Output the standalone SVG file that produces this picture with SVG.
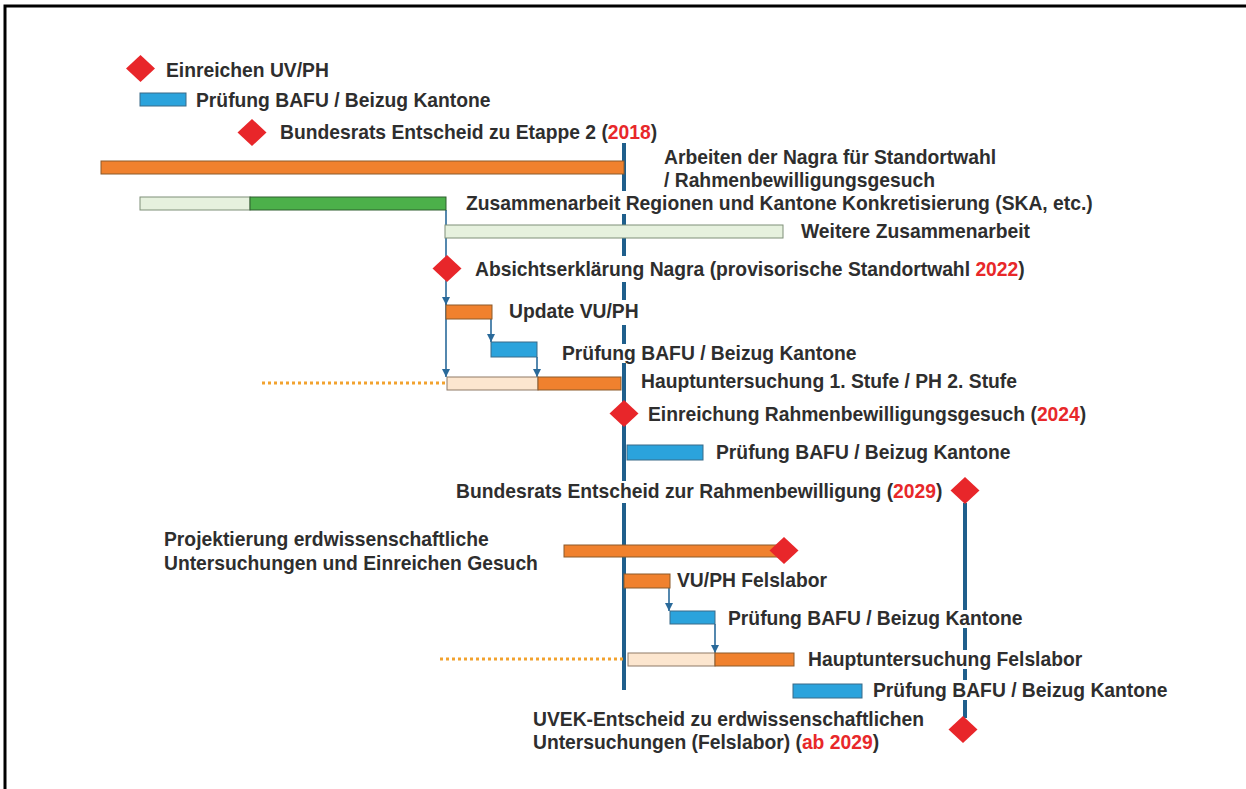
<svg xmlns="http://www.w3.org/2000/svg" width="1246" height="789" viewBox="0 0 1246 789">
<defs>
<style>
text{font-family:"Liberation Sans",Arial,sans-serif;font-weight:bold;font-size:19.3px;fill:#2e2e2e}
.red{fill:#e8282a}
.dia{fill:#e8262a}
.or{fill:#f0812e;stroke:#8b5a2b;stroke-width:1}
.bl{fill:#2ba3dc;stroke:#3a6a88;stroke-width:1}
.gr{fill:#4cb04a;stroke:#2e5e2e;stroke-width:1}
.lg{fill:#e6f1de;stroke:#7f8f78;stroke-width:1}
.pe{fill:#fce6cf;stroke:#8f7a66;stroke-width:1}
.vl{stroke:#1f5f8c;stroke-width:4;fill:none}
.arr{stroke:#2a6a9a;stroke-width:1.6;fill:none;marker-end:url(#ah)}
.dot{stroke:#f2a22e;stroke-width:3;stroke-dasharray:3 3;fill:none}
</style>
<marker id="ah" viewBox="0 0 10 10" refX="10" refY="5" markerWidth="8" markerHeight="8" markerUnits="userSpaceOnUse" orient="auto"><path d="M0,0 L10,5 L0,10 z" fill="#2a6a9a"/></marker>
</defs>
<rect width="1246" height="789" fill="#fff"/>
<path d="M5,789 V6 H1246" stroke="#000" stroke-width="3" fill="none"/>

<g id="timelines">
<path class="vl" d="M624,143 V191 M624,214 V256 M624,282 V300 M624,325 V344 M624,363 V481 M624,503 V690"/>
<path class="vl" d="M965,503 V610 M965,628 V650 M965,669 V680 M965,700 V718"/>
</g>

<g id="connectors">
<path class="arr" d="M446,210 V305"/>
<path class="arr" d="M446,300 V377"/>
<path class="arr" d="M491,319 V342"/>
<path class="arr" d="M537,357 V377"/>
<path class="arr" d="M669,588 V611"/>
<path class="arr" d="M715,624 V653"/>
<path class="dot" d="M262,383 H445"/>
<path class="dot" d="M440,659 H626"/>
</g>

<g id="n1"><path class="dia" d="M140.5,55 L155,68.5 L140.5,82 L126,68.5 z"/><text x="166" y="77">Einreichen UV/PH</text></g>
<g id="n2"><rect class="bl" x="140" y="93" width="46" height="13"/><text x="196" y="107">Prüfung BAFU / Beizug Kantone</text></g>
<g id="n3"><path class="dia" d="M252,119 L266.5,132.5 L252,146 L237.5,132.5 z"/><text x="280" y="139">Bundesrats Entscheid zu Etappe 2 (<tspan class="red">2018</tspan>)</text></g>
<g id="n4"><rect class="or" x="101" y="161" width="523" height="13"/><text x="664" y="164">Arbeiten der Nagra für Standortwahl</text><text x="664" y="187">/ Rahmenbewilligungsgesuch</text></g>
<g id="n5"><rect class="lg" x="140" y="197" width="110" height="13"/><rect class="gr" x="250" y="197" width="196" height="13"/><text x="466" y="210">Zusammenarbeit Regionen und Kantone Konkretisierung (SKA, etc.)</text></g>
<g id="n6"><rect class="lg" x="445" y="225" width="338" height="13"/><text x="801" y="238">Weitere Zusammenarbeit</text></g>
<g id="n7"><path class="dia" d="M447,255 L461.5,268.5 L447,282 L432.5,268.5 z"/><text x="475" y="276">Absichtserklärung Nagra (provisorische Standortwahl <tspan class="red">2022</tspan>)</text></g>
<g id="n8"><rect class="or" x="446" y="305" width="46" height="14"/><text x="509" y="318">Update VU/PH</text></g>
<g id="n9"><rect class="bl" x="491" y="342" width="46" height="15"/><text x="562" y="360">Prüfung BAFU / Beizug Kantone</text></g>
<g id="n10"><rect class="pe" x="447" y="377" width="91" height="13"/><rect class="or" x="538" y="377" width="83" height="13"/><text x="641" y="388">Hauptuntersuchung 1. Stufe / PH 2. Stufe</text></g>
<g id="n11"><path class="dia" d="M624,400 L638.5,413.5 L624,427 L609.5,413.5 z"/><text x="648" y="421">Einreichung Rahmenbewilligungsgesuch (<tspan class="red">2024</tspan>)</text></g>
<g id="n12"><rect class="bl" x="627" y="445" width="76" height="15"/><text x="716" y="459">Prüfung BAFU / Beizug Kantone</text></g>
<g id="n13"><text x="456" y="498">Bundesrats Entscheid zur Rahmenbewilligung (<tspan class="red">2029</tspan>)</text><path class="dia" d="M965,477 L979.5,490.5 L965,504 L950.5,490.5 z"/></g>
<g id="n14"><text x="164" y="546">Projektierung erdwissenschaftliche</text><text x="164" y="570">Untersuchungen und Einreichen Gesuch</text><rect class="or" x="564" y="545" width="220" height="12"/><path class="dia" d="M784,537 L798.5,550.5 L784,564 L769.5,550.5 z"/></g>
<g id="n15"><rect class="or" x="624" y="574" width="46" height="14"/><text x="677" y="587">VU/PH Felslabor</text></g>
<g id="n16"><rect class="bl" x="670" y="611" width="45" height="13"/><text x="728" y="625">Prüfung BAFU / Beizug Kantone</text></g>
<g id="n17"><rect class="pe" x="628" y="653" width="87" height="13"/><rect class="or" x="715" y="653" width="79" height="13"/><text x="808" y="666">Hauptuntersuchung Felslabor</text></g>
<g id="n18"><rect class="bl" x="793" y="684" width="69" height="14"/><text x="873" y="697">Prüfung BAFU / Beizug Kantone</text></g>
<g id="n19"><text x="533" y="726">UVEK-Entscheid zu erdwissenschaftlichen</text><text x="533" y="749">Untersuchungen (Felslabor) (<tspan class="red">ab 2029</tspan>)</text><path class="dia" d="M963,716 L977.5,729.5 L963,743 L948.5,729.5 z"/></g>
</svg>
